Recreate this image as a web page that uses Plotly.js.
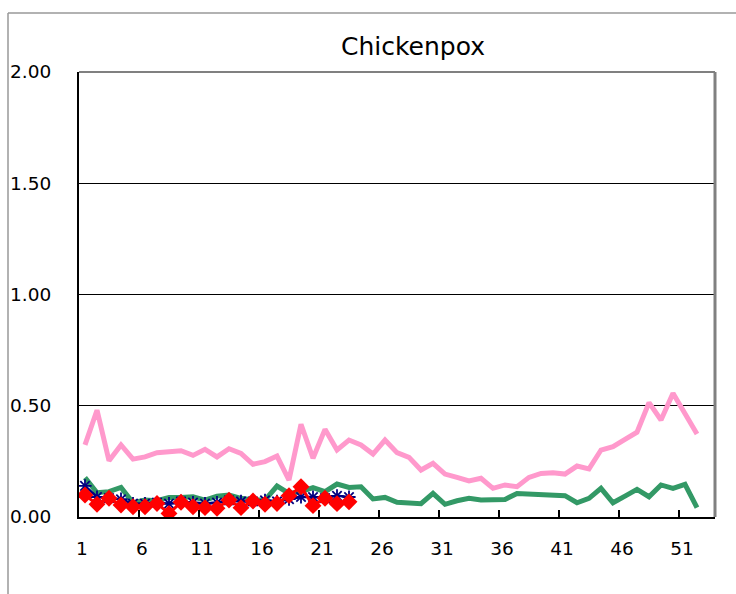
<!DOCTYPE html>
<html><head><meta charset="utf-8">
<script src="https://cdn.plot.ly/plotly-3.0.1.min.js"></script>
<style>html,body{margin:0;padding:0;background:#fff;overflow:hidden}</style>
</head><body>
<div id="chart" style="width:736px;height:594px"></div>
<script>
const chartTitle = 'Chickenpox';
const weeks = [];
for (let w = 1; w <= 52; w++) weeks.push(w);

const pinkValues = [0.324,0.48,0.253,0.324,0.26,0.27,0.289,0.296,0.298,0.277,
  0.304,0.27,0.307,0.286,0.237,0.249,0.274,0.166,0.417,0.264,
  0.394,0.301,0.346,0.324,0.283,0.346,0.289,0.268,0.211,0.241,
  0.193,0.178,0.162,0.174,0.129,0.144,0.136,0.178,0.196,0.199,
  0.193,0.229,0.216,0.301,0.316,0.349,0.381,0.514,0.436,0.556,
  0.466,0.373];
const greenValues = [0.177,0.109,0.114,0.133,0.064,0.076,0.073,0.088,0.088,0.091,
  0.076,0.094,0.099,0.084,0.076,0.076,0.139,0.106,0.114,0.132,
  0.114,0.148,0.133,0.136,0.081,0.088,0.066,0.061,0.06,0.106,
  0.057,0.073,0.084,0.076,0.076,0.079,0.106,0.103,0.099,0.099,
  0.096,0.064,0.084,0.129,0.064,0.094,0.124,0.091,0.144,0.129,
  0.147,0.042];
const navyValues = [0.14,0.09,0.085,0.08,0.06,0.06,0.065,0.06,0.07,0.065,
  0.06,0.065,0.075,0.07,0.07,0.075,0.07,0.08,0.09,0.09,
  0.085,0.095,0.09];
const redValues = [0.099,0.057,0.084,0.054,0.046,0.046,0.061,0.016,0.066,0.046,
  0.042,0.039,0.076,0.042,0.072,0.057,0.061,0.096,0.136,0.051,
  0.084,0.06,0.068];
const xTickLabels = ['1','6','11','16','21','26','31','36','41','46','51'];
const yTickValues = [0, 0.5, 1, 1.5, 2];

const FONT = 'DejaVu Sans, sans-serif';

const traces = [
  {x: weeks, y: pinkValues, type: 'scatter', mode: 'lines',
   line: {color: '#FF99CC', width: 5}, hoverinfo: 'skip'},
  {x: weeks, y: greenValues, type: 'scatter', mode: 'lines',
   line: {color: '#339966', width: 5}, hoverinfo: 'skip'},
  {x: weeks.slice(0, navyValues.length), y: navyValues, type: 'scatter', mode: 'lines+markers',
   line: {color: '#000080', width: 2.5},
   marker: {symbol: 'asterisk-open', size: 11, color: '#000080', line: {color: '#000080', width: 1.8}},
   hoverinfo: 'skip'},
  {x: weeks.slice(0, redValues.length), y: redValues, type: 'scatter', mode: 'lines+markers',
   line: {color: '#FF0000', width: 3},
   marker: {symbol: 'diamond', size: 13, color: '#FF0000'},
   hoverinfo: 'skip'}
];

// pixel helpers for frame decorations (paper coordinates)
const W = 736, H = 594, ML = 79, MR = 21, MT = 72, MB = 77;
const pw = W - ML - MR, ph = H - MT - MB;
const px = v => (v - ML) / pw;
const py = v => (H - MB - v) / ph;

const layout = {
  width: W, height: H,
  margin: {l: ML, r: MR, t: MT, b: MB, pad: 0},
  paper_bgcolor: '#fff', plot_bgcolor: '#fff',
  showlegend: false,
  font: {family: FONT, color: '#000'},
  title: {text: chartTitle, font: {family: FONT, size: 25, color: '#000'},
          x: 413 / W, xanchor: 'center', xref: 'container',
          y: 1 - 46 / H, yanchor: 'middle', yref: 'container'},
  xaxis: {
    range: [0.5, 53.5], type: 'linear',
    tickmode: 'array',
    tickvals: xTickLabels.map(t => Number(t) - 0.5),
    ticktext: xTickLabels,
    ticks: 'inside', ticklen: 7, tickwidth: 1.5, tickcolor: '#000',
    ticklabelshift: 3, ticklabelstandoff: 14,
    tickfont: {family: FONT, size: 18.5, color: '#000'},
    showgrid: false, zeroline: false,
    showline: true, linecolor: '#000', linewidth: 2,
    fixedrange: true
  },
  yaxis: {
    range: [0, 2],
    tickmode: 'array', tickvals: yTickValues,
    ticktext: yTickValues.map(v => v.toFixed(2)),
    ticks: '', ticklabelstandoff: 22,
    tickfont: {family: FONT, size: 18.5, color: '#000'},
    showgrid: true, gridcolor: '#000', gridwidth: 1,
    zeroline: false,
    showline: true, linecolor: '#000', linewidth: 2,
    fixedrange: true
  },
  shapes: [
    {type: 'line', xref: 'paper', yref: 'paper', x0: px(8), x1: px(740), y0: py(13), y1: py(13),
     line: {color: '#999', width: 1.5}},
    {type: 'line', xref: 'paper', yref: 'paper', x0: px(8), x1: px(8), y0: py(13), y1: py(600),
     line: {color: '#999', width: 1.5}},
    {type: 'line', xref: 'paper', yref: 'paper', x0: 0, x1: 1, y0: 1, y1: 1,
     line: {color: '#808080', width: 2}},
    {type: 'line', xref: 'paper', yref: 'paper', x0: 1, x1: 1, y0: 0, y1: 1,
     line: {color: '#808080', width: 3}}
  ]
};

Plotly.newPlot('chart', traces, layout, {displayModeBar: false, staticPlot: true});
</script>
</body></html>
